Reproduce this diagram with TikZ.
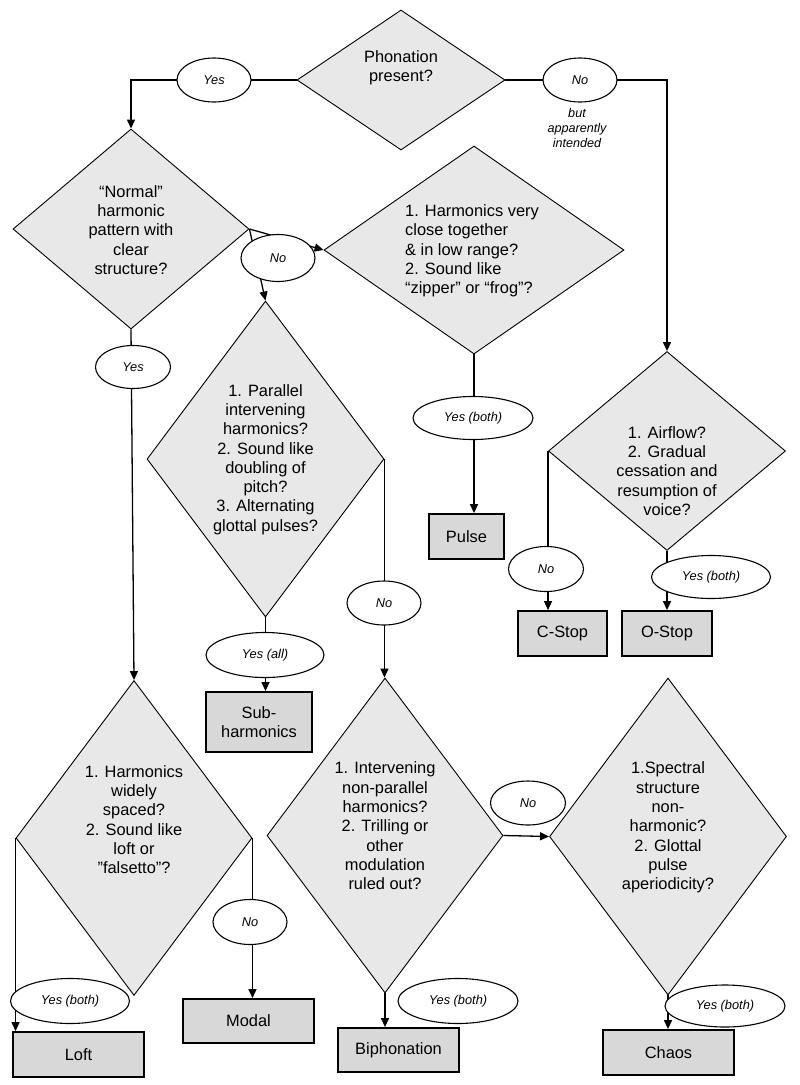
\documentclass[tikz,border=0pt]{standalone}
\usepackage{fontspec}
\setmainfont{Liberation Sans}
\usetikzlibrary{shapes.geometric,arrows.meta,backgrounds,calc}
\definecolor{dfill}{RGB}{232,232,232}
\definecolor{bfill}{RGB}{216,216,216}
\begin{document}
\begin{tikzpicture}[x=1pt,y=-1pt,
  quest/.style={shape=diamond, draw, line width=0.9pt, fill=dfill, inner sep=0pt},
  qtext/.style={align=center, inner sep=0pt, font=\fontsize{16.4}{19.3}\selectfont},
  ans/.style={ellipse, draw, line width=1.1pt, fill=white, inner sep=0pt, font=\fontsize{12.8}{15}\selectfont\itshape},
  note/.style={align=center, inner sep=0pt, font=\fontsize{12.6}{15}\selectfont\itshape},
  res/.style={rectangle, draw, line width=1.8pt, fill=bfill, inner sep=0pt, align=center, font=\fontsize{16.4}{19.3}\selectfont},
  conn/.style={line width=1.3pt, -{Triangle[length=9pt,width=8pt]}},
  link/.style={line width=1.3pt}]
\useasboundingbox (0,0) rectangle (800,1085);

% questions
\node[quest, minimum width=208pt, minimum height=140pt] (d1) at (401,80) {};
\node[quest, minimum width=236pt, minimum height=200pt] (d2) at (131,229) {};
\node[quest, minimum width=300pt, minimum height=208pt] (d3) at (474,250) {};
\node[quest, minimum width=237pt, minimum height=316pt] (d4) at (265.5,459) {};
\node[quest, minimum width=236pt, minimum height=315pt] (d5) at (134,838) {};
\node[quest, minimum width=236pt, minimum height=315pt] (d6) at (385,835.5) {};
\node[quest, minimum width=237pt, minimum height=317pt] (d7) at (668,836.5) {};
\node[quest, minimum width=237pt, minimum height=199pt] (d8) at (667,451) {};

\node[qtext] (t1) at (401,68) {Phonation\\present?};
\node[qtext] (t2) at (131,230) {“Normal”\\harmonic\\pattern with\\clear\\structure?};
\node[qtext, align=left] (t3) at (472,251) {1. Harmonics very\\close together\\\& in low range?\\2. Sound like\\“zipper” or “frog”?};
\node[qtext] (t4) at (265.5,459.5) {1. Parallel\\intervening\\harmonics?\\2. Sound like\\doubling of\\pitch?\\3. Alternating\\glottal pulses?};
\node[qtext] (t5) at (134,819.5) {1. Harmonics\\widely\\spaced?\\2. Sound like\\loft or\\”falsetto”?};
\node[qtext] (t6) at (385,826) {1. Intervening\\non-parallel\\harmonics?\\2. Trilling or\\other\\modulation\\ruled out?};
\node[qtext] (t7) at (668,827.5) {1.Spectral\\structure\\non-\\harmonic?\\2. Glottal\\pulse\\aperiodicity?};
\node[qtext] (t8) at (667,471) {1. Airflow?\\2. Gradual\\cessation and\\resumption of\\voice?};

% results
\node[res, minimum width=75pt, minimum height=45pt] (pulse) at (466.5,536.5) {Pulse};
\node[res, minimum width=89pt, minimum height=45pt] (cstop) at (562.5,633.5) {C-Stop};
\node[res, minimum width=90pt, minimum height=45pt] (ostop) at (667,633.5) {O-Stop};
\node[res, minimum width=106pt, minimum height=60pt] (sub) at (259,722) {Sub-\\harmonics};
\node[res, minimum width=131pt, minimum height=45pt] (loft) at (78.5,1054.5) {Loft};
\node[res, minimum width=131pt, minimum height=44pt] (modal) at (248.5,1021) {Modal};
\node[res, minimum width=121pt, minimum height=44pt] (bipho) at (398.5,1050) {Biphonation};
\node[res, minimum width=131pt, minimum height=45pt] (chaos) at (668.5,1052.5) {Chaos};

% answers
\node[ans, minimum width=74pt, minimum height=44pt] (e1) at (214,80) {Yes};
\node[ans, minimum width=74pt, minimum height=44pt] (e2) at (580,80) {No};
\node[note] (n2) at (577,128) {but\\apparently\\intended};
\node[ans, minimum width=74pt, minimum height=47pt] (e3) at (278,258) {No};
\node[ans, minimum width=75pt, minimum height=43pt] (e4) at (133,367) {Yes};
\node[ans, minimum width=120pt, minimum height=43pt] (e5) at (473,418) {Yes (both)};
\node[ans, minimum width=75pt, minimum height=45pt] (e6) at (546,569) {No};
\node[ans, minimum width=119pt, minimum height=43pt] (e7) at (711,577) {Yes (both)};
\node[ans, minimum width=118pt, minimum height=45pt] (e8) at (265,655) {Yes (all)};
\node[ans, minimum width=74pt, minimum height=44pt] (e9) at (384,603) {No};
\node[ans, minimum width=119pt, minimum height=45pt] (e10) at (70,1001) {Yes (both)};
\node[ans, minimum width=74pt, minimum height=45pt] (e11) at (250,922) {No};
\node[ans, minimum width=75pt, minimum height=44pt] (e12) at (528,803) {No};
\node[ans, minimum width=120pt, minimum height=45pt] (e13) at (458,1001) {Yes (both)};
\node[ans, minimum width=120pt, minimum height=42pt] (e14) at (725,1006) {Yes (both)};

% connectors
\begin{scope}[on background layer]
\draw[conn] (d1.west) -| (d2.north);
\draw[conn] (d1.east) -| (d8.north);
\draw[conn] (d2.east) -- (d3.west);
\draw[conn] (d2.east) -- (d4.north);
\draw[conn] (d2.south) -- (d5.north);
\draw[conn] (d3.south) -- (d3.south |- pulse.north);
\draw[conn] (d8.west) -- (d8.west |- cstop.north);
\draw[conn] (d8.south) -- (ostop.north);
\draw[conn] (d4.south) -- (d4.south |- sub.north);
\draw[conn] (d4.east) -- (d4.east |- d6.north);
\draw[conn] (d5.west) -- (d5.west |- loft.north);
\draw[conn] (d5.east) -- (d5.east |- modal.north);
\draw[conn] (d6.south) -- (d6.south |- bipho.north);
\draw[conn] (d6.east) -- (d7.west);
\draw[conn] (d7.south) -- (d7.south |- chaos.north);
\end{scope}
\end{tikzpicture}
\end{document}
